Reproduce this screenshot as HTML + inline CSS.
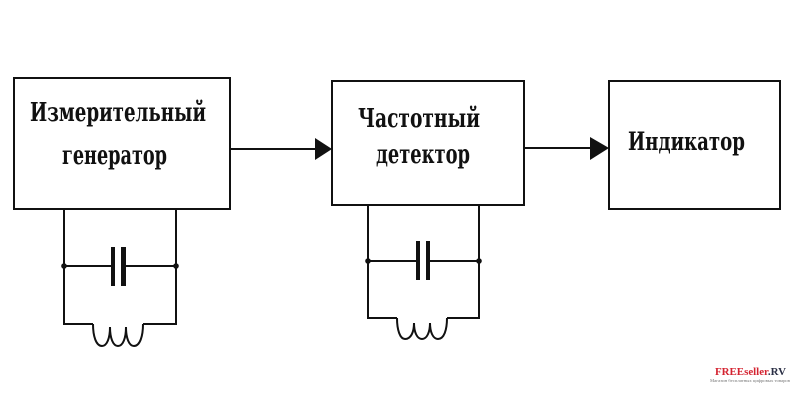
<!DOCTYPE html>
<html>
<head>
<meta charset="utf-8">
<style>
html,body{margin:0;padding:0;background:#fff;}
svg{display:block;}
text.lbl{font-family:"DejaVu Serif","Liberation Serif",serif;font-stretch:condensed;font-weight:bold;fill:#111;}
text.wm{font-family:"Liberation Serif",serif;font-weight:bold;}
</style>
</head>
<body>
<svg width="800" height="400" viewBox="0 0 800 400" xmlns="http://www.w3.org/2000/svg">
<rect x="0" y="0" width="800" height="400" fill="#fff"/>
<g fill="none" stroke="#111" stroke-width="2">
  <!-- boxes -->
  <rect x="14" y="78" width="216" height="131"/>
  <rect x="332" y="81" width="192" height="124"/>
  <rect x="609" y="81" width="171" height="128"/>
  <!-- arrows -->
  <line x1="230" y1="149" x2="318" y2="149"/>
  <line x1="524" y1="148" x2="592" y2="148"/>
  <!-- circuit 1 -->
  <polyline points="64,209 64,324 93,324"/>
  <polyline points="176,209 176,324 143,324"/>
  <line x1="64" y1="266" x2="112" y2="266"/>
  <line x1="124" y1="266" x2="176" y2="266"/>
  <path d="M93,324 C93,336 96,346 102,346 C107,346 110,338 110,327 C110,338 113,346 118,346 C123,346 126,338 126,327 C126,338 129,346 134,346 C140,346 143,336 143,324"/>
  <!-- circuit 2 -->
  <polyline points="368,205 368,318 397,318"/>
  <polyline points="479,205 479,318 447,318"/>
  <line x1="368" y1="261" x2="417" y2="261"/>
  <line x1="429" y1="261" x2="479" y2="261"/>
  <path d="M397,318 C397,330 400,339 405,339 C411,339 414,332 414,323 C414,332 417,339 422,339 C427,339 430,332 430,323 C430,332 433,339 438,339 C444,339 447,330 447,318"/>
</g>
<g fill="#111">
  <!-- arrowheads -->
  <polygon points="315,138 332,149 315,160"/>
  <polygon points="590,137 609,148 590,160"/>
  <!-- capacitor plates -->
  <rect x="111" y="247" width="4" height="39"/>
  <rect x="121" y="247" width="5" height="39"/>
  <rect x="416" y="241" width="4" height="39"/>
  <rect x="426" y="241" width="4" height="39"/>
  <!-- junction dots -->
  <circle cx="64" cy="266" r="2.8"/>
  <circle cx="176" cy="266" r="2.8"/>
  <circle cx="368" cy="261" r="2.8"/>
  <circle cx="479" cy="261" r="2.8"/>
</g>
<!-- labels -->
<text class="lbl" x="30" y="121" font-size="26" textLength="176" lengthAdjust="spacingAndGlyphs">Измерительный</text>
<text class="lbl" x="62" y="164" font-size="26" textLength="105" lengthAdjust="spacingAndGlyphs">генератор</text>
<text class="lbl" x="358" y="127" font-size="26" textLength="122" lengthAdjust="spacingAndGlyphs">Частотный</text>
<text class="lbl" x="376" y="163" font-size="26" textLength="94" lengthAdjust="spacingAndGlyphs">детектор</text>
<text class="lbl" x="628" y="150" font-size="25" textLength="117" lengthAdjust="spacingAndGlyphs">Индикатор</text>
<!-- watermark -->
<text class="wm" x="715" y="375" font-size="11" textLength="71" lengthAdjust="spacingAndGlyphs" style="fill:#d42330"><tspan>FREEseller</tspan><tspan style="fill:#2a2f45">.RV</tspan></text>
<text class="wm" x="710" y="382" font-size="4" textLength="80" lengthAdjust="spacingAndGlyphs" style="fill:#777;font-weight:normal">Магазин бесплатных цифровых товаров</text>
</svg>
</body>
</html>
